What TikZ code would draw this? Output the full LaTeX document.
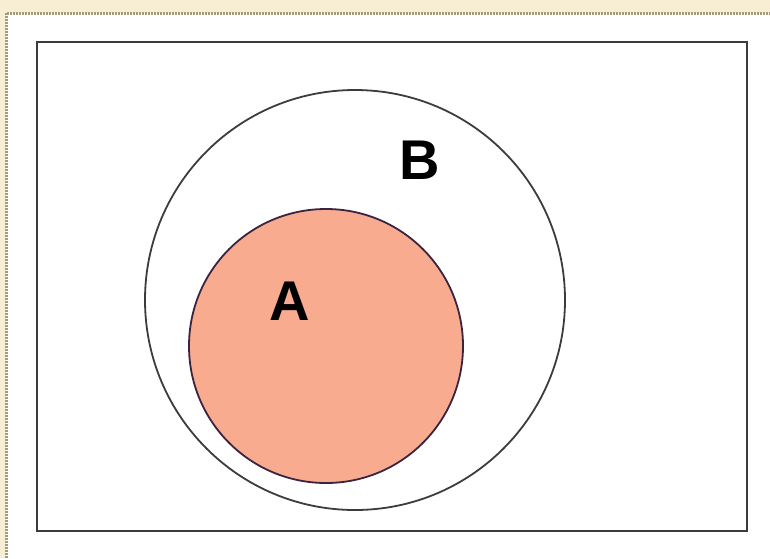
\documentclass[tikz,border=0pt]{standalone}
\usepackage{fontspec}
\setmainfont{Liberation Sans}
\usetikzlibrary{positioning}
\definecolor{vncream}{HTML}{F8EED4}
\definecolor{vntan}{HTML}{A89A78}
\definecolor{vnsalmon}{HTML}{F9AB8F}
\definecolor{vnplum}{HTML}{3A2440}
\definecolor{vnframe}{HTML}{3C3C3C}
\begin{document}
\begin{tikzpicture}[
      x=1pt, y=-1pt,
      universe/.style={draw=vnframe, line width=2pt},
      outerset/.style={
        circle, draw=vnframe, line width=1.8pt,
        minimum size=420pt, inner sep=0pt
      },
      innerset/.style={
        circle, draw=vnplum, line width=1.8pt, fill=vnsalmon,
        minimum size=274pt, inner sep=0pt
      },
      setlabel/.style={font=\fontsize{56}{56}\selectfont\bfseries, inner sep=0pt}
    ]
      \useasboundingbox (0,0) rectangle (770,558);

      % Page background
      \fill[vncream] (0,0) rectangle (770,558);
      \fill[white] (6,13) rectangle (770,558);
      \draw[vntan, line width=3pt, dash pattern=on 2pt off 1pt] (6,558) -- (6,13) -- (770,13);

      % Universe
      \draw[universe] (37,42) rectangle (747,531);

      % Sets
      \node[outerset] (setB) at (355,300) {};
      \node[innerset] (setA) at (326,346) {};

      % Labels
      \node[setlabel] (labelB) at (420,160) {B};
      \node[setlabel] (labelA) at (290,301) {A};
    \end{tikzpicture}
\end{document}
